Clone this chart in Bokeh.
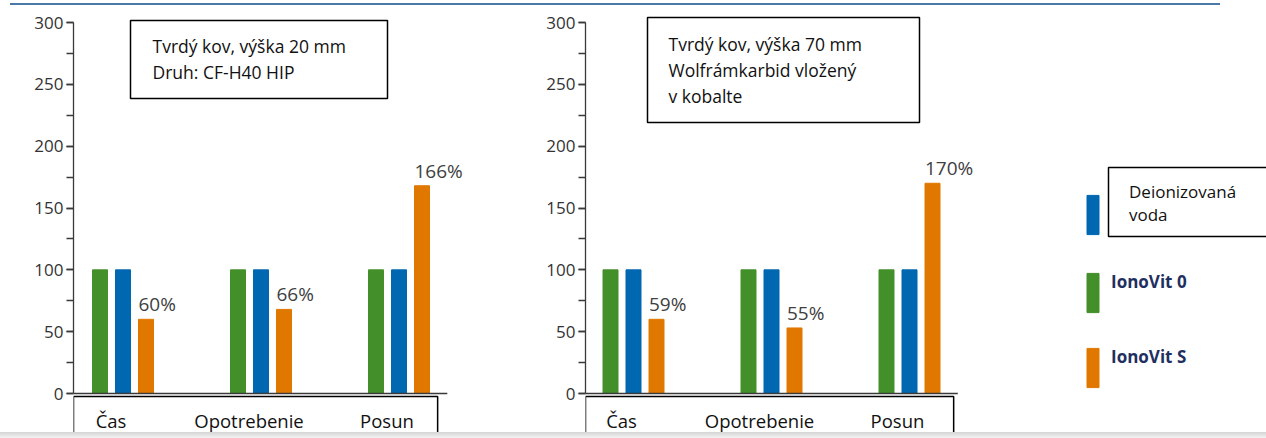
from bokeh.plotting import figure
from bokeh.models import (ColumnDataSource, Range1d, SingleIntervalTicker, LabelSet,
                          BoxAnnotation, Legend, LegendItem, Div)
from bokeh.layouts import column, row
from bokeh.transform import dodge
from bokeh.core.properties import value
from bokeh.embed import file_html
from bokeh.resources import INLINE

# ---------------- data ----------------
categories = ["Čas", "Opotrebenie", "Posun"]
series_names = ["Deionizovaná voda", "IonoVit 0", "IonoVit S"]

left_ionovit0 = [100, 100, 100]
left_voda = [100, 100, 100]
left_ionovitS = [60, 68, 168]
left_labels = ["60%", "66%", "166%"]

right_ionovit0 = [100, 100, 100]
right_voda = [100, 100, 100]
right_ionovitS = [60, 53, 170]
right_labels = ["59%", "55%", "170%"]

left_box_lines = ["Tvrdý kov, výška 20 mm", "Druh: CF-H40 HIP"]
right_box_lines = ["Tvrdý kov, výška 70 mm", "Wolfrámkarbid vložený", "v kobalte"]

# ---------------- style ----------------
GREEN = "#43902a"
BLUE = "#0067b1"
ORANGE = "#e07800"
AXIS = "#3a3a3a"
FONT = "Open Sans"

# page geometry (pixel coordinates of the page)
FIG_TOP, FIG_BOTTOM = 5, 432
Y0_PX, Y300_PX = 393, 22
K = (Y0_PX - Y300_PX) / 300.0
STEP = 138.0
OFF = 23.0 / STEP
BAR_W = 15.0 / STEP


def fy(r):
    return (Y0_PX - r) / K


def text_lines(p, xs, baselines, lines, size):
    src = ColumnDataSource(dict(x=xs, y=[fy(b) for b in baselines], t=lines))
    p.add_layout(LabelSet(x="x", y="y", text="t", source=src, text_align="left",
                          text_baseline="alphabetic", text_font=value(FONT),
                          text_font_size=value(size), text_color=value("#111111")))


def build(fig_left, fig_width, axis_x, first_center, green, blue, orange, labels,
          box_rect, box_text_x, box_baselines, box_lines, cat_right):
    fx = lambda r: (r - first_center) / STEP
    x_start = fx(axis_x)
    x_end = fx(fig_left + fig_width)
    p = figure(width=fig_width, height=FIG_BOTTOM - FIG_TOP,
               x_range=Range1d(x_start, x_end), y_range=Range1d(fy(FIG_BOTTOM), fy(FIG_TOP)),
               output_backend="svg", toolbar_location=None, x_axis_location=None,
               min_border_left=axis_x - fig_left, min_border_right=0,
               min_border_top=0, min_border_bottom=0)
    p.outline_line_color = None
    p.grid.visible = False

    ax = p.yaxis[0]
    ax.ticker = SingleIntervalTicker(interval=50, num_minor_ticks=2)
    ax.bounds = (0, 300)
    ax.major_tick_out = 7
    ax.major_tick_in = 0
    ax.minor_tick_out = 7
    ax.minor_tick_in = 0
    ax.axis_line_color = AXIS
    ax.major_tick_line_color = AXIS
    ax.minor_tick_line_color = AXIS
    ax.axis_line_width = 1.3
    ax.major_tick_line_width = 1.3
    ax.minor_tick_line_width = 1.3
    ax.major_label_text_font = FONT
    ax.major_label_text_font_size = "17px"
    ax.major_label_text_color = "#333333"
    ax.major_label_standoff = 3

    src = ColumnDataSource(dict(idx=list(range(len(categories))), cat=categories,
                                green=green, blue=blue, orange=orange, lab=labels))
    rg = p.vbar(x=dodge("idx", -OFF), top="green", width=BAR_W, source=src,
                fill_color=GREEN, line_color=GREEN)
    rb = p.vbar(x=dodge("idx", 0), top="blue", width=BAR_W, source=src,
                fill_color=BLUE, line_color=BLUE)
    ro = p.vbar(x=dodge("idx", OFF), top="orange", width=BAR_W, source=src,
                fill_color=ORANGE, line_color=ORANGE)

    # baseline (x axis line)
    p.line(x=[x_start, len(categories) - 1 + 0.35], y=[0, 0], line_color=AXIS, line_width=1.3)

    p.add_layout(LabelSet(x=dodge("idx", OFF), y="orange", text="lab", source=src,
                          x_offset=-7.5, y_offset=8, text_align="left",
                          text_baseline="alphabetic", text_font=value(FONT),
                          text_font_size=value("19px"), text_color=value("#404040")))

    # category box + labels
    p.add_layout(BoxAnnotation(left=x_start, right=cat_right, top=fy(396), bottom=fy(460),
                               fill_alpha=0.0, line_color="black", line_alpha=1.0,
                               line_width=1.5))
    p.add_layout(LabelSet(x="idx", y=fy(427), text="cat", source=src, x_offset=-12,
                          text_align="center", text_baseline="alphabetic",
                          text_font=value(FONT), text_font_size=value("18.5px"),
                          text_color=value("#111111")))

    # info box
    l, r, t, b = box_rect
    p.add_layout(BoxAnnotation(left=fx(l), right=fx(r), top=fy(t), bottom=fy(b),
                               fill_color="white", fill_alpha=1.0,
                               line_color="black", line_alpha=1.0, line_width=1.5))
    text_lines(p, [fx(box_text_x)] * len(box_lines), box_baselines, box_lines, "17.5px")
    return p, fx, (rb, rg, ro)


pA, fxA, _ = build(0, 518, 73, 122.5, left_ionovit0, left_voda, left_ionovitS, left_labels,
                   (130, 387, 20, 98), 152, [52, 78], left_box_lines, 2.28)
pB, fxB, (rb, rg, ro) = build(518, 748, 585, 633, right_ionovit0, right_voda, right_ionovitS,
                              right_labels, (647, 919, 17, 122), 668, [50, 76, 102],
                              right_box_lines, 2.32)

# box around the first legend entry
pB.add_layout(BoxAnnotation(left=fxB(1108), right=fxB(1280), top=fy(167), bottom=fy(236),
                            fill_color="white", fill_alpha=1.0,
                            line_color="black", line_alpha=1.0, line_width=1.5))

common = dict(orientation="vertical", glyph_width=15, glyph_height=49, spacing=26,
              padding=0, margin=0, border_line_color=None, background_fill_alpha=0,
              label_text_font=FONT, label_text_font_size="17px")

legend1 = Legend(items=[LegendItem(label="Deionizovaná\nvoda\n ", renderers=[rb])],
                 location=(1085 - 585, FIG_BOTTOM - 249), label_standoff=29,
                 label_text_color="#111111", label_text_line_height=1.3, **common)
legend2 = Legend(items=[LegendItem(label=series_names[1] + "\n ", renderers=[rg]),
                        LegendItem(label=series_names[2] + "\n ", renderers=[ro])],
                 location=(1085 - 585, FIG_BOTTOM - 392), label_standoff=11,
                 label_text_color="#1f3060", label_text_font_style="bold", **common)
pB.add_layout(legend1)
pB.add_layout(legend2)

topline = Div(text="", width=1210, height=2, margin=(3, 0, 0, 10),
              styles={"background-color": "#4a78a8"})
bottomband = Div(text="", width=1266, height=6, margin=(0, 0, 0, 0),
                 styles={"background": "linear-gradient(#d4d4d4, #f4f4f4)"})

layout = column(topline, row(pA, pB, spacing=0), bottomband, spacing=0)
open("out.html", "w").write(file_html(layout, INLINE))
